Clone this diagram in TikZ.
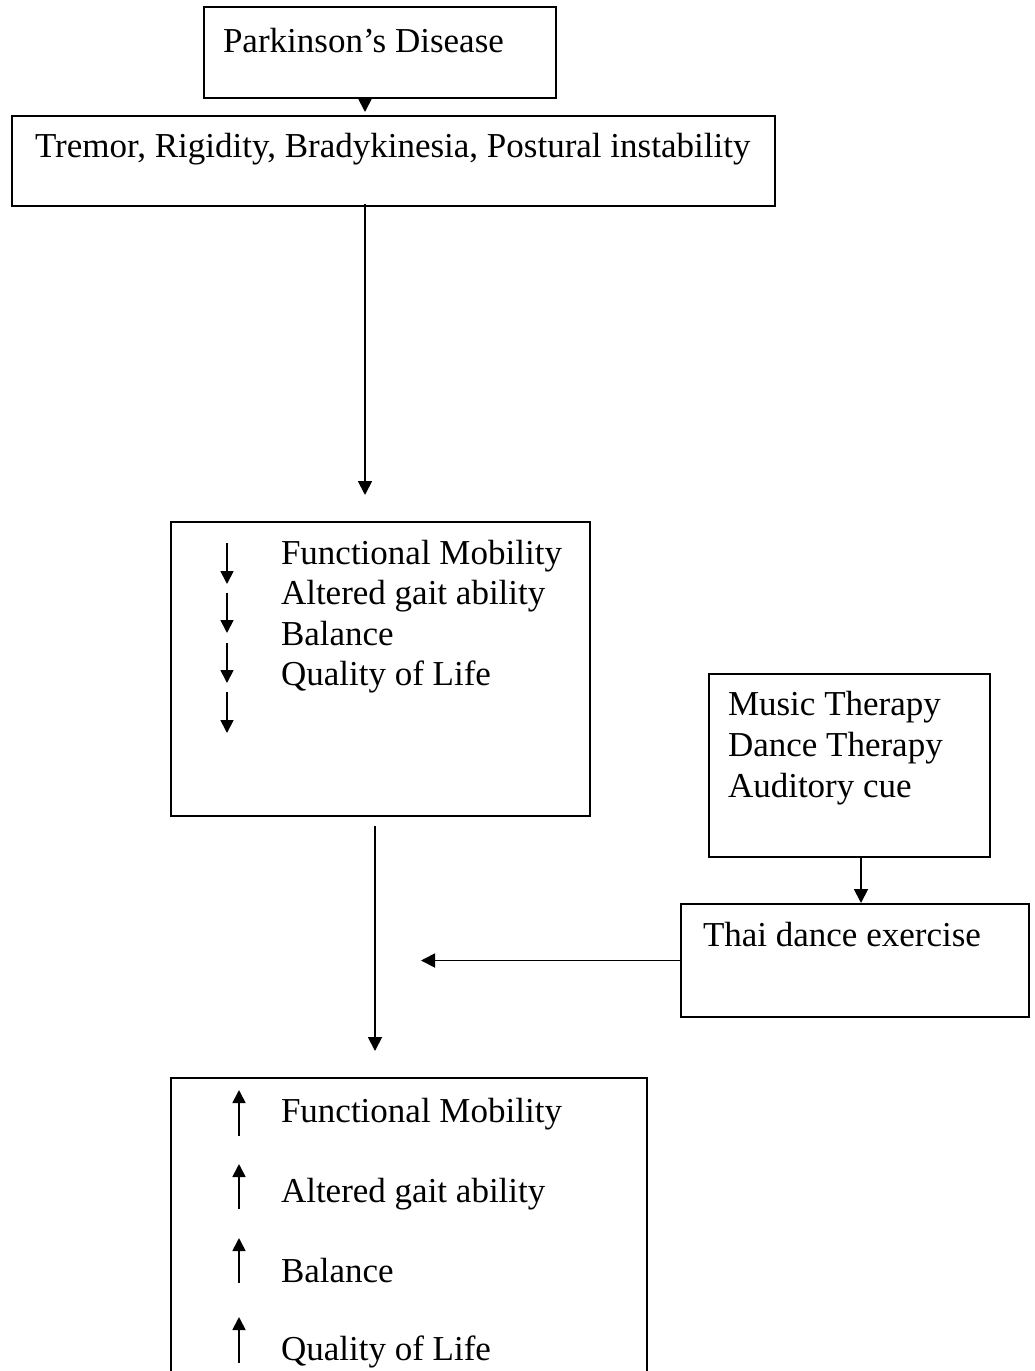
\documentclass[tikz,border=0pt]{standalone}
\usepackage{fontspec}
\setmainfont{Liberation Serif}
\usetikzlibrary{arrows.meta}
\begin{document}
\begin{tikzpicture}[x=1pt,y=-1pt,
  box/.style={draw, line width=1.8pt, outer sep=0pt, inner sep=0pt, anchor=north west},
  txt/.style={anchor=base west, inner sep=0pt, outer sep=0pt, font=\fontsize{35}{40.5}\selectfont},
  arr/.style={line width=1.8pt, -{Triangle[length=14pt,width=14pt]}},
  trend/.style={line width=1.8pt, -{Triangle[length=13pt,width=13pt]}},
]
\useasboundingbox (0,0) rectangle (1034,1371);
\clip (0,0) rectangle (1034,1371);

% boxes
\node[box, minimum width=352, minimum height=91]  (pd)  at (204,7)    {};
\node[box, minimum width=763, minimum height=90]  (sym) at (12,116)   {};
\node[box, minimum width=419, minimum height=294] (low) at (171,522)  {};
\node[box, minimum width=281, minimum height=183] (thr) at (709,674)  {};
\node[box, minimum width=348, minimum height=113] (thd) at (681,904)  {};
\node[box, minimum width=476, minimum height=340] (imp) at (171,1078) {};

% texts
\node[txt] (tpd) at (223,52)  {Parkinson’s Disease};
\node[txt] (tsy) at (35,157)  {Tremor, Rigidity, Bradykinesia, Postural instability};

\node[txt] (l1) at (281,564)   {Functional Mobility};
\node[txt] (l2) at (281,604.5) {Altered gait ability};
\node[txt] (l3) at (281,645)   {Balance};
\node[txt] (l4) at (281,685.5) {Quality of Life};

\node[txt] (r1) at (728,715) {Music Therapy};
\node[txt] (r2) at (728,756) {Dance Therapy};
\node[txt] (r3) at (728,797) {Auditory cue};

\node[txt] (td) at (703,946) {Thai dance exercise};

\node[txt] (u1) at (281,1122) {Functional Mobility};
\node[txt] (u2) at (281,1202) {Altered gait ability};
\node[txt] (u3) at (281,1282) {Balance};
\node[txt] (u4) at (281,1360) {Quality of Life};

% positions of the connectors
\coordinate (sp1) at (365,0);
\coordinate (sp2) at (375,0);
\coordinate (sp3) at (861,0);
\coordinate (jx)  at (421,0);
\coordinate (join) at (thd.west -| jx);

% connectors
\draw[arr, shorten >=4pt] (pd.south -| sp1) -- (sym.north -| sp1);
\draw[arr, shorten <=-2pt, shorten >=27pt] (sym.south -| sp1) -- (low.north -| sp1);
\draw[arr, shorten <=10pt, shorten >=27pt] (low.south -| sp2) -- (imp.north -| sp2);
\draw[arr, shorten >=1pt] (thr.south -| sp3) -- (thd.north -| sp3);
\draw[arr] (thd.west) -- (join);

% decrease marks
\foreach \a/\b in {543/584, 593/633, 643/683, 692/733}
  \draw[trend] (227,\a) -- (227,\b);
% increase marks
\foreach \a/\b in {1136/1090, 1209/1164, 1283/1238, 1363/1317}
  \draw[trend] (239,\a) -- (239,\b);
\end{tikzpicture}
\end{document}
